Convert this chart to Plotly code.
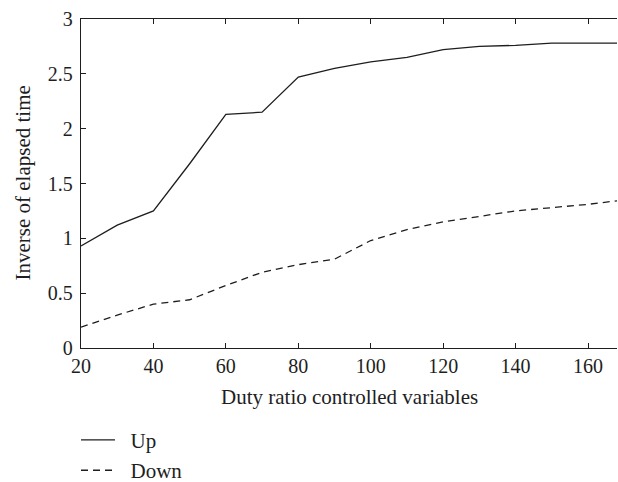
import plotly.graph_objects as go

# Duty ratio controlled variables
duty = [20, 30, 40, 50, 60, 70, 80, 90, 100, 110, 120, 130, 140, 150, 160, 170]
# Inverse of elapsed time for each direction
up = [0.93, 1.12, 1.25, 1.68, 2.13, 2.15, 2.47, 2.55, 2.61, 2.65, 2.72, 2.75, 2.76, 2.78, 2.78, 2.78]
down = [0.19, 0.30, 0.40, 0.44, 0.57, 0.69, 0.76, 0.81, 0.98, 1.08, 1.15, 1.20, 1.25, 1.28, 1.31, 1.35]

series_names = ["Up", "Down"]
x_ticks = [20, 40, 60, 80, 100, 120, 140, 160]
y_ticks = [0, 0.5, 1, 1.5, 2, 2.5, 3]
y_labels = ["0", "0.5", "1", "1.5", "2", "2.5", "3"]

FONT = "Liberation Serif"
INK = "#1e1e1e"
TICK_FS = 20
TEXT_FS = 21
PAD = "\u00a0\u00a0"  # extra gap between legend swatch and label

fig = go.Figure()
fig.add_trace(go.Scatter(x=duty, y=up, mode="lines", name=PAD + series_names[0],
                         line=dict(color=INK, width=1.3)))
fig.add_trace(go.Scatter(x=duty, y=down, mode="lines", name=PAD + series_names[1],
                         line=dict(color=INK, width=1.3, dash="7px,5px")))

axis_common = dict(
    showgrid=False, zeroline=False, showline=True, linecolor=INK, linewidth=1.3,
    ticks="inside", ticklen=5, tickwidth=1.3, tickcolor=INK,
    tickfont=dict(family=FONT, size=TICK_FS, color=INK),
)

fig.update_layout(
    width=618, height=482,
    margin=dict(l=81, r=1, t=19, b=134, autoexpand=False),
    paper_bgcolor="white", plot_bgcolor="white",
    font=dict(family=FONT, color=INK),
    xaxis=dict(range=[20, 168], tickvals=x_ticks, mirror="ticks", **axis_common),
    yaxis=dict(range=[0, 3], tickvals=y_ticks, ticktext=y_labels,
               ticklabelstandoff=3, **axis_common),
    showlegend=True,
    legend=dict(xref="container", yref="container", x=0.123, y=0.129,
                xanchor="left", yanchor="top",
                font=dict(family=FONT, size=TEXT_FS, color=INK),
                bgcolor="rgba(0,0,0,0)", itemwidth=34, tracegroupgap=0),
    annotations=[
        dict(text="Duty ratio controlled variables", xref="paper", yref="paper",
             x=0.5, y=-0.149, xanchor="center", yanchor="middle", showarrow=False,
             font=dict(family=FONT, size=TEXT_FS, color=INK)),
        dict(text="Inverse of elapsed time", xref="paper", yref="paper",
             x=-0.110, y=0.5, xanchor="center", yanchor="middle", showarrow=False,
             textangle=-90, font=dict(family=FONT, size=TEXT_FS, color=INK)),
    ],
)

fig.write_html("out.html")
